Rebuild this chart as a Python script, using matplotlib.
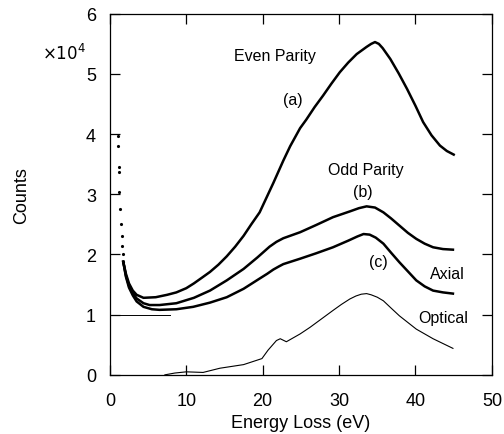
import numpy as np
import matplotlib.pyplot as plt

plt.rcParams['font.family'] = ['Liberation Sans', 'DejaVu Sans']

# sparse dots of the steep elastic tail (E in eV, counts in 1e4)
tail_e = [1.05, 1.05, 1.15, 1.15, 1.25, 1.35, 1.45, 1.55, 1.62, 1.68, 1.75]
tail_y = [3.97, 3.80, 3.45, 3.37, 3.04, 2.76, 2.50, 2.31, 2.14, 2.01, 1.88]

# (a) even parity
even_e = [1.75, 2.1, 2.5, 3.0, 3.5, 4.4, 6.0, 7.5, 8.7, 10.0, 11.0, 12.0, 13.1, 14.2, 15.3,
          16.4, 17.5, 18.5, 19.6, 21.4, 22.7, 23.6, 24.9, 25.7, 26.8, 27.9, 29.0, 30.1,
          31.2, 32.3, 33.6, 34.2, 34.7, 35.2, 35.7, 36.7, 37.8, 38.9, 40.0, 41.0, 42.1,
          43.2, 44.1, 45.0]
even_y = [1.88, 1.68, 1.52, 1.40, 1.33, 1.28, 1.29, 1.33, 1.37, 1.44, 1.52, 1.61, 1.71, 1.83,
          1.97, 2.13, 2.31, 2.50, 2.70, 3.19, 3.56, 3.80, 4.10, 4.24, 4.45, 4.64, 4.84, 5.03,
          5.19, 5.33, 5.45, 5.50, 5.53, 5.50, 5.43, 5.25, 5.01, 4.75, 4.47, 4.20, 3.98,
          3.81, 3.72, 3.66]

# (b) odd parity
odd_e = [1.75, 2.1, 2.5, 3.0, 3.5, 4.4, 5.2, 6.5, 8.7, 11.0, 13.1, 15.3, 17.5, 19.3, 20.9,
         21.8, 22.7, 24.9, 27.0, 29.2, 31.5, 32.6, 33.6, 34.7, 35.8, 36.8, 37.9, 39.0,
         40.1, 41.2, 42.3, 43.6, 44.9]
odd_y = [1.88, 1.65, 1.48, 1.36, 1.27, 1.19, 1.16, 1.16, 1.19, 1.28, 1.40, 1.57, 1.76, 1.95, 2.13,
         2.21, 2.27, 2.37, 2.49, 2.62, 2.72, 2.77, 2.80, 2.78, 2.70, 2.60, 2.48, 2.36,
         2.26, 2.18, 2.12, 2.09, 2.08]

# (c) axial
axial_e = [1.75, 2.1, 2.5, 3.0, 3.5, 4.4, 5.5, 6.5, 8.7, 10.9, 13.1, 15.3, 17.5, 19.6, 20.6,
           21.4, 22.1, 22.7, 24.9, 27.0, 29.2, 31.2, 32.4, 33.2, 34.0, 34.8, 35.8, 36.8,
           37.9, 39.0, 40.1, 41.2, 42.3, 43.6, 44.9]
axial_y = [1.88, 1.63, 1.45, 1.32, 1.22, 1.13, 1.09, 1.08, 1.09, 1.13, 1.20, 1.29, 1.43, 1.60, 1.68,
           1.75, 1.80, 1.84, 1.93, 2.02, 2.12, 2.23, 2.30, 2.34, 2.33, 2.28, 2.18, 2.03,
           1.87, 1.72, 1.57, 1.47, 1.40, 1.37, 1.35]

# optical
opt_e = [7.2, 8.5, 10.0, 12.2, 14.4, 17.5, 19.9, 20.7, 21.8, 22.3, 23.1, 24.9, 26.2,
         27.7, 29.2, 30.3, 31.4, 32.2, 32.9, 33.6, 34.2, 35.0, 35.8, 36.8, 37.9, 39.0,
         40.1, 41.2, 42.3, 43.6, 44.9]
opt_y = [0.0, 0.03, 0.05, 0.04, 0.11, 0.17, 0.27, 0.41, 0.57, 0.60, 0.55, 0.68, 0.79,
         0.93, 1.07, 1.17, 1.26, 1.31, 1.34, 1.35, 1.33, 1.29, 1.23, 1.11, 0.98, 0.87,
         0.76, 0.68, 0.60, 0.52, 0.44]

# baseline marker at 1e4
base_e = [0, 7.9]
base_y = [1, 1]

fig = plt.figure(figsize=(5.04, 4.35), dpi=100)
ax = fig.add_axes([0.218, 0.136, 0.758, 0.830])

ax.plot(tail_e, tail_y, 'k.', ms=2.5)
for e, y in [(even_e, even_y), (odd_e, odd_y), (axial_e, axial_y)]:
    ax.plot(e, y, color='black', lw=1.8, solid_joinstyle='round')
ax.plot(opt_e, opt_y, color='black', lw=0.8)
ax.plot(base_e, base_y, color='black', lw=0.7)

ax.set_xlim(0, 50)
ax.set_ylim(0, 6)
ax.set_xticks([0, 10, 20, 30, 40, 50])
ax.set_yticks([0, 1, 2, 3, 4, 5, 6])
ax.tick_params(direction='in', length=7, width=0.9, labelsize=13,
               top=True, right=True)
ax.tick_params(axis='x', pad=12)
ax.tick_params(axis='y', pad=10)
for s in ax.spines.values():
    s.set_linewidth(0.9)

ax.set_xlabel('Energy Loss (eV)', fontsize=13, labelpad=4)
ax.set_ylabel('Counts', fontsize=13, labelpad=40)
ax.text(-0.12, 0.895, r'$\times10^4$', transform=ax.transAxes, fontsize=12,
        ha='center', va='center', math_fontfamily='dejavusans')

ax.text(21.6, 5.3, 'Even Parity', fontsize=11.5, ha='center', va='center')
ax.text(24.0, 4.58, '(a)', fontsize=11.5, ha='center', va='center')
ax.text(33.5, 3.42, 'Odd Parity', fontsize=11.5, ha='center', va='center')
ax.text(33.1, 3.04, '(b)', fontsize=11.5, ha='center', va='center')
ax.text(35.1, 1.88, '(c)', fontsize=11.5, ha='center', va='center')
ax.text(44.2, 1.68, 'Axial', fontsize=11.5, ha='center', va='center')
ax.text(43.6, 0.96, 'Optical', fontsize=11.5, ha='center', va='center')

fig.savefig('out.png', dpi=100)
